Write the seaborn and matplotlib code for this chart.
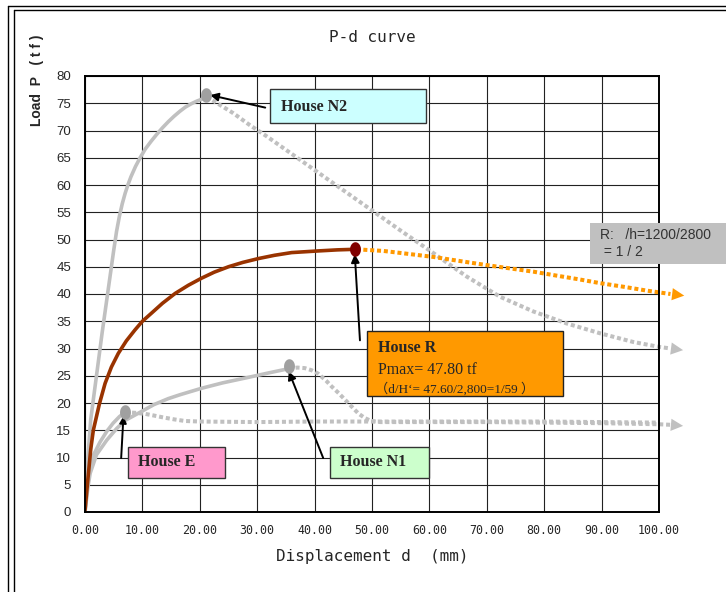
import numpy as np
import matplotlib
matplotlib.use("Agg")
import matplotlib.pyplot as plt
from matplotlib.patches import Rectangle
from matplotlib.lines import Line2D
import seaborn as sns

# House N2 (solid up to peak, then dotted softening branch)
n2_x = [0, 0.5, 1, 2, 3, 4, 5, 5.5, 6, 6.5, 7, 7.5, 8, 8.8, 9.6, 10.5, 11.5, 12.5, 13.5, 14.5,
        15.5, 16.5, 17.5, 18.5, 19.5, 20.5, 21]
n2_y = [0, 10, 17, 25, 33, 40.5, 48, 51.5, 54.3, 56.6, 58.5, 60.1, 61.5, 63.4, 65, 66.6, 68, 69.3, 70.5, 71.6,
        72.6, 73.5, 74.3, 74.9, 75.4, 75.8, 76]
n2_dx = [21.2, 23.5, 25.8, 28.7, 31.7, 37.5, 43.3, 49.1, 54.9, 60.7, 66.5, 72.3, 78.1, 83.9, 89.7, 95.5, 100, 102]
n2_dy = [76.2, 74.7, 73.2, 71, 68.9, 64.6, 60.3, 56, 51.7, 47.5, 43.2, 39.5, 36.8, 34.6, 32.8, 31.2, 30.3, 30.0]

# House R
r_x = [0, 0.5, 1, 1.45, 2.5, 3.5, 4.6, 5.8, 7.2, 8.7, 10, 11.6, 13.5, 15.7, 18, 20.3, 22.5, 25,
       27.5, 30.2, 33, 36, 40.6, 44, 47]
r_y = [0.3, 6, 11.5, 15, 19.8, 23.6, 26.6, 29.1, 31.4, 33.4, 35, 36.5, 38.3, 40.1, 41.6, 42.9, 44.0, 45,
       45.8, 46.5, 47.1, 47.6, 47.9, 48.1, 48.2]
r_dx = [47.3, 52, 56, 60.7, 65, 70, 74, 78.1, 82, 86, 89.7, 94, 98, 102]
r_dy = [48.2, 47.9, 47.4, 46.8, 46.1, 45.3, 44.7, 44.1, 43.4, 42.7, 42, 41.3, 40.6, 40.0]

# House N1
n1_x = [0, 0.5, 0.9, 2, 3.8, 5.5, 7, 9.6, 12, 14.5, 16.5, 20.3, 24, 28, 31.9, 35.5]
n1_y = [0, 4.5, 7.1, 10.5, 13.2, 15.3, 16.8, 18.3, 19.7, 20.8, 21.5, 22.7, 23.7, 24.6, 25.5, 26.3]
n1_dx = [35.5, 37, 38.3, 39.5, 40.6, 42, 43, 44.2, 45.3, 46.5, 47.6, 48.8, 49.9, 51.5, 55, 60, 70, 80, 90, 100, 102]
n1_dy = [26.3, 26.5, 26.4, 26.0, 25.4, 24.1, 23, 21.8, 20.6, 19.3, 18.1, 17.2, 16.7, 16.5, 16.5, 16.5, 16.5, 16.4,
         16.3, 16.1, 16.0]

# House E
e_x = [0, 0.5, 1, 1.5, 2.6, 3.8, 4.9, 6, 7]
e_y = [0, 5.5, 8.5, 10.5, 12.8, 14.8, 16.3, 17.5, 18.3]
e_dx = [7, 8.7, 10.5, 12, 13.4, 15.5, 17.4, 20, 30, 40, 50, 60, 70, 80, 90, 100]
e_dy = [18.3, 18.2, 18, 17.7, 17.4, 17, 16.7, 16.6, 16.5, 16.6, 16.6, 16.6, 16.6, 16.6, 16.5, 16.4]

# peak markers
n2_peak = (21, 76.5)
r_peak = (47, 48.2)
n1_peak = (35.5, 26.7)
e_peak = (7, 18.4)

# arrow tips of the dotted branches
n2_end = (104.2, 29.7)
r_end = (104.4, 39.7)
n1_end = (104.2, 15.8)

xticks = np.arange(0, 101, 10)
yticks = np.arange(0, 81, 5)

sns.set_style("white")
plt.rcParams['font.family'] = ['Liberation Sans', 'DejaVu Sans']

fig = plt.figure(figsize=(7.26, 5.92), dpi=100)
ax = fig.add_axes([85/726, 1-512/592, (659-85)/726, (512-76)/592])

GRAY = '#c0c0c0'
dot = (0, (1, 0.7))

# dotted branches
for dx, dy, col in [(n2_dx, n2_dy, GRAY), (e_dx, e_dy, GRAY), (n1_dx, n1_dy, GRAY), (r_dx, r_dy, '#ff9900')]:
    sns.lineplot(x=dx, y=dy, ax=ax, color=col, lw=2.9, linestyle=dot, dash_capstyle='butt', clip_on=False)

# solid envelope curves
for sx, sy, col in [(n2_x, n2_y, GRAY), (n1_x, n1_y, GRAY), (e_x, e_y, GRAY), (r_x, r_y, '#993300')]:
    sns.lineplot(x=sx, y=sy, ax=ax, color=col, lw=2.6, solid_capstyle='round', solid_joinstyle='round')

# arrow heads at the end of the dotted lines
for dx, dy, end, col in [(n2_dx, n2_dy, n2_end, GRAY), (n1_dx, n1_dy, n1_end, GRAY), (r_dx, r_dy, r_end, '#ff9900')]:
    ax.annotate("", xy=end, xytext=(dx[-1], dy[-1]), annotation_clip=False,
                arrowprops=dict(arrowstyle='-|>,head_length=0.8,head_width=0.4', color=col, lw=0,
                                mutation_scale=11, shrinkA=0, shrinkB=0))

# ellipse markers at peaks
t = np.linspace(0, 2*np.pi, 40)
ell = list(zip(0.75*np.cos(t), np.sin(t)))
for (px, py), col in [(n2_peak, '#a0a0a0'), (n1_peak, '#a0a0a0'), (e_peak, '#a0a0a0'), (r_peak, '#800000')]:
    ax.scatter([px], [py], marker=ell, s=110, color=col, zorder=5, linewidths=0)

ax.set_xlim(0, 100)
ax.set_ylim(0, 80)
ax.set_xticks(xticks)
ax.set_yticks(yticks)
ax.set_xticklabels([f"{v:.2f}" for v in xticks], family='DejaVu Sans Mono', fontsize=8.4)
ax.set_yticklabels([str(v) for v in yticks], fontsize=9.5)
ax.tick_params(axis='x', length=0, pad=9)
ax.tick_params(axis='y', length=0, pad=10)
ax.grid(True, color='#222222', lw=0.8)
ax.set_axisbelow(True)
for s in ax.spines.values():
    s.set_color('black')
    s.set_linewidth(1.4)

ax.set_xlabel("Displacement d  (mm)", family='DejaVu Sans Mono', fontsize=11.5, labelpad=8)
fig.text(372/726, 1-38/592, "P-d curve", family='DejaVu Sans Mono', fontsize=11.5,
         ha='center', va='center')
fig.text(37/726, 1-80/592, "Load  P   ( t f )", fontsize=10, fontweight='bold',
         rotation=90, ha='center', va='center')

# label boxes
def box(x0, x1, y0, y1, fc, ec='#333333'):
    ax.add_patch(Rectangle((x0, y0), x1-x0, y1-y0, facecolor=fc, edgecolor=ec, lw=1.0,
                           clip_on=False, zorder=6))

serif = ['Liberation Serif', 'Noto Sans CJK JP', 'DejaVu Serif']

box(32.2, 59.4, 71.4, 77.7, '#ccffff')
ax.text(34.1, 74.4, "House N2", family=serif, fontweight='bold', fontsize=11.5, va='center', zorder=7)
ax.annotate("", xy=(21.8, 76.5), xytext=(31.4, 74.2),
            arrowprops=dict(arrowstyle='-|>', color='black', lw=1.4, mutation_scale=12, shrinkA=0, shrinkB=0))

box(49.2, 83.2, 21.3, 33.3, '#ff9900', ec='#222222')
ax.text(51.0, 30.1, "House R", family=serif, fontweight='bold', fontsize=11.5, va='center', zorder=7)
ax.text(51.0, 26.1, "Pmax= 47.80 tf", family=serif, fontsize=11.5, va='center', zorder=7)
ax.text(50.6, 22.6, "（d/H‘= 47.60/2,800=1/59 ）", family=serif, fontsize=9.5, va='center', zorder=7)
ax.annotate("", xy=(47.0, 47.3), xytext=(47.9, 31.5),
            arrowprops=dict(arrowstyle='-|>', color='black', lw=1.4, mutation_scale=12, shrinkA=0, shrinkB=0))

box(7.5, 24.4, 6.2, 12.0, '#ff99cc')
ax.text(9.2, 9.1, "House E", family=serif, fontweight='bold', fontsize=11.5, va='center', zorder=7)
ax.annotate("", xy=(6.7, 17.6), xytext=(6.3, 9.9),
            arrowprops=dict(arrowstyle='-|>', color='black', lw=1.4, mutation_scale=10, shrinkA=0, shrinkB=0))

box(42.6, 59.9, 6.2, 12.0, '#ccffcc')
ax.text(44.4, 9.1, "House N1", family=serif, fontweight='bold', fontsize=11.5, va='center', zorder=7)
ax.annotate("", xy=(35.5, 25.8), xytext=(41.5, 9.9),
            arrowprops=dict(arrowstyle='-|>', color='black', lw=1.4, mutation_scale=12, shrinkA=0, shrinkB=0))

box(88.0, 112.0, 45.5, 53.0, '#c0c0c0', ec='none')
ax.text(89.7, 50.9, "R:   /h=1200/2800", fontsize=10, color='#333333', va='center', zorder=7)
ax.text(89.7, 47.7, " = 1 / 2", fontsize=10, color='#333333', va='center', zorder=7)

# double frame on left and top
for xl, yt in [(8, 6), (14, 10)]:
    fig.add_artist(Line2D([xl/726, xl/726], [0, 1-yt/592], color='black', lw=1.0, transform=fig.transFigure))
    fig.add_artist(Line2D([xl/726, 1], [1-yt/592, 1-yt/592], color='black', lw=1.0, transform=fig.transFigure))

fig.savefig("out.png", dpi=100)
